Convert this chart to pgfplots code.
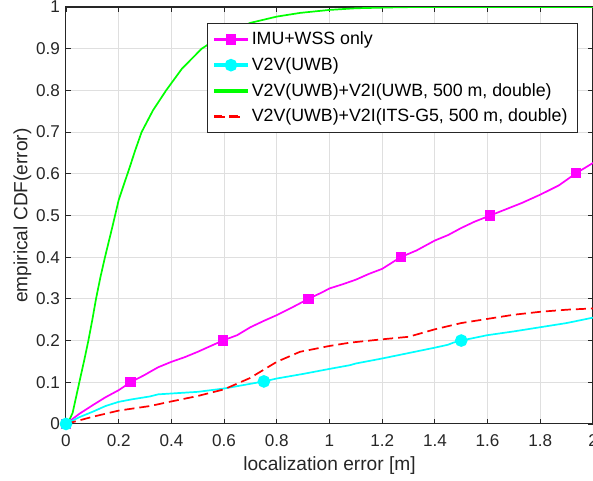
\documentclass[border=0pt]{standalone}
\usepackage{fontspec}
\setmainfont{Liberation Sans}
\usepackage{pgfplots}
\pgfplotsset{compat=1.18}
\definecolor{axc}{rgb}{0.15,0.15,0.15}
\definecolor{gridc}{RGB}{223,223,223}
\definecolor{mg}{rgb}{1,0,1}
\definecolor{cy}{rgb}{0,1,1}
\definecolor{gr}{rgb}{0,1,0}
\definecolor{rd}{rgb}{1,0,0}
\begin{document}
\begin{tikzpicture}
\begin{axis}[
  name=ax,
  scale only axis,
  width=308.3pt, height=243.9pt,
  xmin=0, xmax=2, ymin=0, ymax=1,
  xtick={0,0.2,...,2.01}, ytick={0,0.1,...,1.01},
  xticklabels={0,0.2,0.4,0.6,0.8,1,1.2,1.4,1.6,1.8,2},
  yticklabels={0,0.1,0.2,0.3,0.4,0.5,0.6,0.7,0.8,0.9,1},
  tick align=inside,
  major tick length=3pt,
  tick style={axc, line width=0.5pt},
  axis line style={axc, line width=0.6pt},
  grid=major,
  major grid style={gridc, line width=0.6pt},
  ticklabel style={font=\fontsize{10}{12}\selectfont, text=axc},
  xticklabel style={yshift=-2.5pt},
  yticklabel style={xshift=0pt},
  xlabel={localization error [m]},
  ylabel={empirical CDF(error)},
  label style={font=\fontsize{11.2}{13}\selectfont, text=axc},
  xlabel style={at={(axis description cs:0.5,0)}, anchor=center, yshift=-24.6pt},
  ylabel style={at={(axis description cs:0,0.5)}, anchor=center, xshift=0pt, yshift=25.5pt},
  legend style={at={(axis description cs:0.970,0.962)}, anchor=north east,
    draw=axc, fill=white, font=\fontsize{10.4}{12.5}\selectfont,
    row sep=2pt, inner xsep=3.5pt, inner ysep=3pt, cells={anchor=west, text=black}},
  legend cell align=left,
]
\addplot[mg, line width=1pt, mark=square*, mark size=2.5pt, mark options={solid, fill=mg, draw=mg},
  mark indices={1,6,13,19,26,32,37},
  legend image code/.code={\fill[mg] (0cm,-0.6pt) rectangle (0.68cm,0.6pt);
    \fill[mg] (0.34cm-2.5pt,-2.5pt) rectangle (0.34cm+2.5pt,2.5pt);}] coordinates {
(0,0)(0.05,0.024)(0.104,0.046)(0.15,0.064)(0.2,0.081)(0.245,0.1)
(0.3,0.118)(0.319,0.125)(0.35,0.136)(0.4,0.149)(0.45,0.16)(0.5,0.173)(0.595,0.2)
(0.65,0.213)(0.7,0.232)(0.75,0.247)(0.8,0.261)(0.86,0.28)(0.92,0.3)
(0.97,0.315)(1.0,0.325)(1.05,0.335)(1.1,0.346)(1.15,0.36)(1.2,0.372)(1.27,0.4)
(1.33,0.416)(1.4,0.44)(1.45,0.453)(1.5,0.47)(1.55,0.485)(1.61,0.5)
(1.67,0.515)(1.73,0.53)(1.8,0.55)(1.87,0.572)(1.935,0.601)
(2.0,0.626)};
\addlegendentry{IMU+WSS only}
\addplot[cy, line width=1pt, mark=*, mark size=3.2pt, mark options={solid, fill=cy, draw=cy},
  mark indices={1,12,23},
  legend image code/.code={\fill[cy] (0cm,-0.6pt) rectangle (0.68cm,0.6pt);
    \fill[cy] (0.34cm,0cm) circle (3.2pt);}] coordinates {
(0,0)(0.05,0.016)(0.104,0.03)(0.15,0.043)(0.2,0.053)(0.25,0.059)(0.319,0.066)
(0.35,0.071)(0.4,0.073)(0.5,0.077)(0.6,0.085)(0.751,0.102)
(0.8,0.109)(0.9,0.12)(1.0,0.132)(1.078,0.141)(1.1,0.145)(1.2,0.157)(1.3,0.17)
(1.4,0.183)(1.45,0.19)(1.47,0.195)(1.5,0.2)(1.6,0.213)(1.7,0.222)(1.8,0.232)
(1.9,0.242)(2.0,0.255)};
\addlegendentry{V2V(UWB)}
\addplot[gr, line width=1pt,
  legend image code/.code={\fill[gr] (0cm,-0.6pt) rectangle (0.68cm,0.6pt);}] coordinates {
(0,0)(0.01,0.006)(0.025,0.026)(0.05,0.098)(0.07,0.155)(0.085,0.2)(0.1,0.25)
(0.114,0.3)(0.13,0.35)(0.148,0.4)(0.175,0.47)(0.2,0.537)(0.22,0.575)(0.24,0.612)
(0.262,0.655)(0.287,0.7)(0.33,0.752)(0.38,0.8)(0.44,0.852)(0.515,0.9)(0.6,0.935)
(0.7,0.962)(0.8,0.977)(0.89,0.986)(1.0,0.993)(1.1,0.997)(1.27,0.9995)(1.35,1.0)(2.0,1.0)};
\addlegendentry{V2V(UWB)+V2I(UWB, 500 m, double)}
\addplot[rd, line width=1pt, dash pattern=on 5.9pt off 2.9pt,
  legend image code/.code={\fill[rd] (0cm,-0.6pt) rectangle (5.9pt,0.6pt);
    \fill[rd] (8.8pt,-0.6pt) rectangle (14.7pt,0.6pt);}] coordinates {
(0,0)(0.1,0.017)(0.2,0.032)(0.319,0.043)(0.4,0.054)(0.5,0.067)(0.6,0.083)
(0.698,0.11)(0.8,0.149)(0.888,0.173)(1.0,0.187)(1.078,0.195)(1.2,0.203)
(1.3,0.209)(1.4,0.227)(1.5,0.242)(1.6,0.252)(1.7,0.262)(1.8,0.269)(1.9,0.274)(2.0,0.277)};
\addlegendentry{V2V(UWB)+V2I(ITS-G5, 500 m, double)}
\end{axis}
\pgfresetboundingbox
\path[use as bounding box] ([xshift=-38.6pt,yshift=-33.3pt]ax.south west) rectangle ([yshift=4.1pt]ax.north east);
\end{tikzpicture}
\end{document}
